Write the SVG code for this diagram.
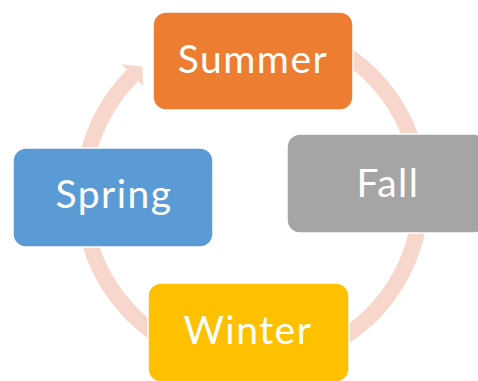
<svg xmlns="http://www.w3.org/2000/svg" width="478" height="381" viewBox="0 0 478 381">
  <style>
    .box { stroke: #ffffff; stroke-width: 1.5; }
    .lbl { font-family: Lato, "Open Sans", "Liberation Sans", sans-serif; font-size: 39px; letter-spacing: 1.5px; fill: #ffffff; text-anchor: middle; }
    .ring { fill: none; stroke: #F7D7CC; stroke-width: 16; }
  </style>
  <rect width="478" height="381" fill="#ffffff"/>
  <g id="connectors">
    <path class="ring" d="M 194.2 36.2 A 169 169 0 1 1 132.5 75.5"/>
    <polygon points="121.2,64.2 142.3,66.5 143.1,86.1" fill="#F7D7CC"/>
  </g>
  <g id="summer">
    <rect class="box" x="153" y="12" width="200" height="98" rx="13" fill="#ED7D31"/>
    <text class="lbl" x="253" y="73">Summer</text>
  </g>
  <g id="fall">
    <rect class="box" x="287" y="134" width="200" height="99" rx="13" fill="#A5A5A5"/>
    <text class="lbl" x="388" y="197">Fall</text>
  </g>
  <g id="winter">
    <rect class="box" x="148" y="283" width="201" height="99" rx="13" fill="#FFC000"/>
    <text class="lbl" x="248" y="344">Winter</text>
  </g>
  <g id="spring">
    <rect class="box" x="13" y="148" width="200" height="99" rx="13" fill="#5B9BD5"/>
    <text class="lbl" x="114" y="208">Spring</text>
  </g>
</svg>
